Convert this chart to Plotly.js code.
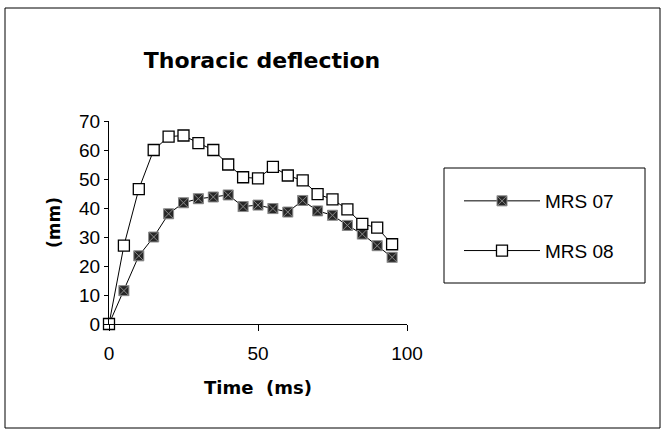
<!DOCTYPE html>
<html>
<head>
<meta charset="utf-8">
<script src="https://cdn.plot.ly/plotly-3.0.1.min.js"></script>
<style>
  html, body { margin: 0; padding: 0; background: #fff; }
  #chart { width: 664px; height: 434px; }
</style>
</head>
<body>
<div id="chart"></div>
<script>
const timeMs = [0, 5, 10, 15, 20, 25, 30, 35, 40, 45, 50, 55, 60, 65, 70, 75, 80, 85, 90, 95];
const mrs07 = [0, 11.5, 23.5, 30, 38, 41.8, 43.2, 43.8, 44.5, 40.5, 41, 39.8, 38.6, 42.6, 39, 37.5, 34, 31, 27, 23];
const mrs08 = [0, 27, 46.5, 60, 64.6, 65, 62.4, 60, 55, 50.6, 50.2, 54.2, 51.2, 49.5, 44.8, 43, 39.5, 34.5, 33.2, 27.5];
const seriesNames = ['MRS 07', 'MRS 08'];
const xTicks = [0, 50, 100];
const yTicks = [0, 10, 20, 30, 40, 50, 60, 70];

const baseFont = 'Liberation Sans, Arial, sans-serif';
const boldFont = 'DejaVu Sans, Liberation Sans, Arial, sans-serif';

const traces = [
  {
    x: timeMs, y: mrs07, name: seriesNames[0], type: 'scatter', mode: 'lines+markers',
    line: { color: '#000', width: 1 },
    marker: { symbol: 'square-x', size: 10, color: '#262626', line: { color: '#8a8a8a', width: 1 } },
    cliponaxis: false, legendgroup: 'a'
  },
  {
    x: timeMs, y: mrs08, name: seriesNames[1], type: 'scatter', mode: 'lines+markers',
    line: { color: '#000', width: 1 },
    marker: { symbol: 'square', size: 11, color: '#fff', line: { color: '#000', width: 1.3 } },
    cliponaxis: false, legendgroup: 'b'
  }
];

// plot area in px
const L = 109, R = 407, T = 121, B = 324;
const W = R - L, H = B - T;
const px = p => (p - L) / W;
const py = p => (B - p) / H;

const layout = {
  width: 664, height: 434,
  margin: { l: L, r: 664 - R, t: T, b: 434 - B },
  paper_bgcolor: '#fff', plot_bgcolor: '#fff',
  showlegend: true,
  title: {
    text: 'Thoracic deflection',
    font: { family: boldFont, size: 22, color: '#000', weight: 'bold' },
    xref: 'container', yref: 'container',
    x: 262 / 664, xanchor: 'center',
    y: 1 - 60 / 434, yanchor: 'middle'
  },
  xaxis: {
    range: [0, 100], tickvals: xTicks, ticktext: xTicks.map(String),
    showgrid: false, zeroline: false, showline: true, linecolor: '#000', linewidth: 1,
    ticks: 'outside', ticklen: 6, tickcolor: '#000', ticklabelstandoff: 6,
    tickfont: { family: baseFont, size: 19, color: '#000' },
    title: { text: 'Time  (ms)', font: { family: boldFont, size: 18, color: '#000', weight: 'bold' }, standoff: 18 },
    automargin: false, fixedrange: true
  },
  yaxis: {
    range: [0, 70], tickvals: yTicks, ticktext: yTicks.map(String),
    showgrid: false, zeroline: false, showline: true, linecolor: '#000', linewidth: 1,
    ticks: 'outside', ticklen: 4, tickcolor: '#000',
    tickfont: { family: baseFont, size: 19, color: '#000' },
    title: { text: '(mm)', font: { family: boldFont, size: 17, color: '#000', weight: 'bold' }, standoff: 14 },
    automargin: false, fixedrange: true
  },
  legend: {
    x: px(459), y: py(182), xanchor: 'left', yanchor: 'top',
    bgcolor: 'rgba(0,0,0,0)', borderwidth: 0,
    font: { family: baseFont, size: 19, color: '#000' },
    traceorder: 'grouped', tracegroupgap: 22, itemwidth: 76
  },
  shapes: [
    { type: 'rect', xref: 'paper', yref: 'paper', x0: px(444), x1: px(645), y0: py(283), y1: py(168),
      line: { color: '#000', width: 1 }, fillcolor: 'rgba(0,0,0,0)' },
    { type: 'rect', xref: 'paper', yref: 'paper', x0: px(5), x1: px(660), y0: py(428), y1: py(8),
      line: { color: '#000', width: 1 }, fillcolor: 'rgba(0,0,0,0)' }
  ]
};

Plotly.newPlot('chart', traces, layout, { staticPlot: true, displayModeBar: false });
</script>
</body>
</html>
